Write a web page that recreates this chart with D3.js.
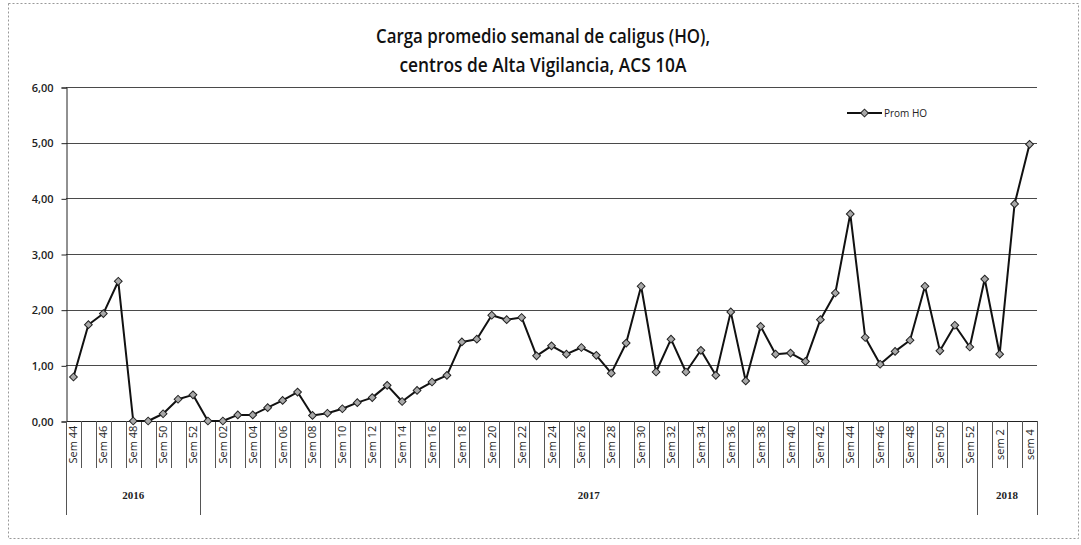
<!DOCTYPE html>
<html>
<head>
<meta charset="utf-8">
<script src="https://cdn.jsdelivr.net/npm/d3@7/dist/d3.min.js"></script>
<style>
  html, body { margin: 0; padding: 0; background: #fff; }
  svg { display: block; }
</style>
</head>
<body>
<svg id="chart" width="1081" height="545"></svg>
<script>
// ---------------- DATA ----------------
const titleLines = ["Carga promedio semanal de caligus (HO),", "centros de Alta Vigilancia, ACS 10A"];
const seriesName = "Prom HO";

const years = ["2016", "2017", "2018"];

const weeks2016 = ["Sem 44","Sem 45","Sem 46","Sem 47","Sem 48","Sem 49","Sem 50","Sem 51","Sem 52"];
const values2016 = [0.79, 1.73, 1.93, 2.51, 0.00, 0.00, 0.13, 0.39, 0.47];

const weeks2017 = ["Sem 01","Sem 02","Sem 03","Sem 04","Sem 05","Sem 06","Sem 07","Sem 08","Sem 09","Sem 10",
  "Sem 11","Sem 12","Sem 13","Sem 14","Sem 15","Sem 16","Sem 17","Sem 18","Sem 19","Sem 20",
  "Sem 21","Sem 22","Sem 23","Sem 24","Sem 25","Sem 26","Sem 27","Sem 28","Sem 29","Sem 30",
  "Sem 31","Sem 32","Sem 33","Sem 34","Sem 35","Sem 36","Sem 37","Sem 38","Sem 39","Sem 40",
  "Sem 41","Sem 42","Sem 43","Sem 44","Sem 45","Sem 46","Sem 47","Sem 48","Sem 49","Sem 50",
  "Sem 51","Sem 52"];
const values2017 = [0.00, 0.00, 0.11, 0.11, 0.24, 0.37, 0.52, 0.10, 0.14, 0.22,
  0.33, 0.42, 0.64, 0.35, 0.55, 0.70, 0.82, 1.42, 1.47, 1.90,
  1.82, 1.86, 1.17, 1.35, 1.20, 1.32, 1.18, 0.86, 1.40, 2.42,
  0.88, 1.47, 0.88, 1.27, 0.82, 1.96, 0.72, 1.70, 1.20, 1.22,
  1.07, 1.82, 2.30, 3.72, 1.50, 1.02, 1.25, 1.45, 2.42, 1.26,
  1.72, 1.33];

const weeks2018 = ["sem 1","sem 2","sem 3","sem 4"];
const values2018 = [2.55, 1.20, 3.90, 4.97];

const yTicks = [0, 1, 2, 3, 4, 5, 6];

// ---------------- BUILD ----------------
const groups = [
  { year: years[0], weeks: weeks2016, values: values2016 },
  { year: years[1], weeks: weeks2017, values: values2017 },
  { year: years[2], weeks: weeks2018, values: values2018 }
];
const points = [];
groups.forEach(g => g.weeks.forEach((w, i) => points.push({ year: g.year, week: w, value: g.values[i] })));
points.forEach((p, i) => p.idx = i);

const svg = d3.select("#chart");
const W = 1081, H = 545;
const plot = { left: 66, right: 1037, top: 87, bottom: 421 };

svg.append("rect").attr("width", W).attr("height", H).attr("fill", "#fff");
// chart border (dotted)
svg.append("rect")
  .attr("x", 8.5).attr("y", 3.5).attr("width", 1070).attr("height", 535)
  .attr("fill", "none").attr("stroke", "#999").attr("stroke-width", 1)
  .attr("stroke-dasharray", "2,2");

const x = d3.scaleBand().domain(points.map(p => p.idx)).range([plot.left, plot.right]).padding(0);
const bw = x.bandwidth();
const cx = i => x(i) + bw / 2;
const y = d3.scaleLinear().domain([0, 6]).range([plot.bottom, plot.top]);

// gridlines
svg.append("g").selectAll("line").data(yTicks.filter(t => t > 0)).join("line")
  .attr("x1", plot.left).attr("x2", plot.right)
  .attr("y1", d => Math.round(y(d)) + 0.5).attr("y2", d => Math.round(y(d)) + 0.5)
  .attr("stroke", "#4a4a4a").attr("stroke-width", 1);

// y axis
const yAxis = d3.axisLeft(y).tickValues(yTicks).tickSize(5).tickPadding(8)
  .tickFormat(d => d3.format(".2f")(d).replace(".", ","));
const gy = svg.append("g").attr("transform", `translate(${plot.left + 0.5},0.5)`).call(yAxis);
gy.select(".domain").attr("stroke", "#222");
gy.selectAll(".tick line").attr("stroke", "#222");
gy.selectAll(".tick text").attr("fill", "#222")
  .style("font-family", "'Open Sans', 'Liberation Sans', sans-serif").style("font-size", "11px")
  .style("font-weight", "600");

// x axis baseline
svg.append("line").attr("x1", plot.left).attr("x2", plot.right)
  .attr("y1", plot.bottom + 0.5).attr("y2", plot.bottom + 0.5)
  .attr("stroke", "#222").attr("stroke-width", 1.2);

// category separators
const labelBottom = 468, yearBottom = 515;
const boundaries = d3.range(points.length + 1);
const yearStarts = new Set();
let acc = 0;
groups.forEach(g => { yearStarts.add(acc); acc += g.weeks.length; });
yearStarts.add(acc);
svg.append("g").selectAll("line").data(boundaries).join("line")
  .attr("x1", i => Math.round(i < points.length ? x(i) : plot.right) + 0.5)
  .attr("x2", i => Math.round(i < points.length ? x(i) : plot.right) + 0.5)
  .attr("y1", plot.bottom)
  .attr("y2", i => yearStarts.has(i) ? yearBottom : labelBottom)
  .attr("stroke", "#555").attr("stroke-width", 1);

// week labels (every other category)
svg.append("g").selectAll("text").data(points.filter(p => p.idx % 2 === 0)).join("text")
  .attr("transform", p => `translate(${cx(p.idx) + 4},${(plot.bottom + labelBottom) / 2}) rotate(-90)`)
  .attr("text-anchor", "middle")
  .style("font-family", "'Open Sans', 'Liberation Sans', sans-serif")
  .style("font-size", "11px").attr("fill", "#222")
  .text(p => p.week);

// year labels
acc = 0;
const yearPos = groups.map(g => { const s = acc; acc += g.weeks.length; return { year: g.year, s, e: acc }; });
svg.append("g").selectAll("text").data(yearPos).join("text")
  .attr("x", d => (x(d.s) + (d.e < points.length ? x(d.e) : plot.right)) / 2)
  .attr("y", 499)
  .attr("text-anchor", "middle")
  .style("font-family", "'Liberation Serif', 'DejaVu Serif', serif")
  .style("font-size", "11px").style("font-weight", "bold").attr("fill", "#222")
  .text(d => d.year);

// line
const line = d3.line().x(p => cx(p.idx)).y(p => y(p.value));
svg.append("path").datum(points)
  .attr("d", line).attr("fill", "none").attr("stroke", "#111").attr("stroke-width", 2)
  .attr("stroke-linejoin", "round");

// markers
const diamond = d3.symbol().type(d3.symbolSquare).size(30);
svg.append("g").selectAll("path").data(points).join("path")
  .attr("d", diamond)
  .attr("transform", p => `translate(${cx(p.idx)},${y(p.value)}) rotate(45)`)
  .attr("fill", "#a8a8a8").attr("stroke", "#222").attr("stroke-width", 1);

// legend
const lg = svg.append("g").attr("transform", "translate(847,113)");
lg.append("line").attr("x1", 0).attr("x2", 35).attr("y1", 0).attr("y2", 0)
  .attr("stroke", "#111").attr("stroke-width", 2);
lg.append("path").attr("d", diamond).attr("transform", "translate(17.5,0) rotate(45)")
  .attr("fill", "#a8a8a8").attr("stroke", "#222").attr("stroke-width", 1);
lg.append("text").attr("x", 37).attr("y", 4)
  .style("font-family", "'Open Sans', 'Liberation Sans', sans-serif").style("font-size", "10px")
  .attr("fill", "#222").text(seriesName);

// title
const titleWidths = [334, 287];
svg.append("g").selectAll("text").data(titleLines).join("text")
  .attr("x", 543).attr("y", (d, i) => 43 + i * 29)
  .attr("text-anchor", "middle")
  .attr("textLength", (d, i) => titleWidths[i])
  .attr("lengthAdjust", "spacingAndGlyphs")
  .style("font-family", "'Open Sans', 'Liberation Sans', sans-serif")
  .style("font-size", "19px").style("font-weight", "600").attr("fill", "#111")
  .text(d => d);
</script>
</body>
</html>
